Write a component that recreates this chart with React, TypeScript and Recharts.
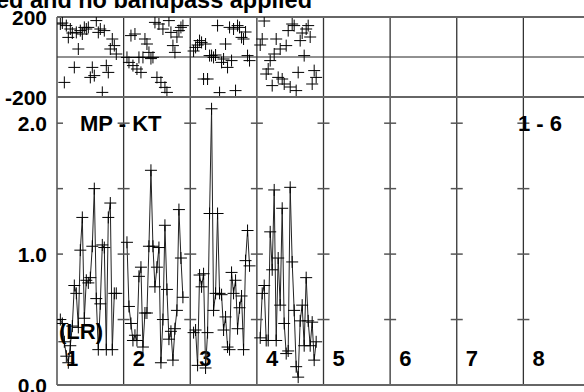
import React from 'react';
import { ComposedChart, Line, Scatter, XAxis, YAxis, ReferenceLine } from 'recharts';

// sample times, as a fraction of one channel box
const TIMES = [
  0.05, 0.08, 0.11, 0.14, 0.17, 0.2, 0.23, 0.26, 0.29, 0.32, 0.35, 0.38, 0.41, 0.44, 0.47,
  0.5, 0.53, 0.56, 0.59, 0.62, 0.65, 0.68, 0.71, 0.74, 0.77, 0.8, 0.83, 0.86, 0.89,
];

const CHANNELS = [1, 2, 3, 4, 5, 6, 7, 8];
const BOUNDARIES = [0, 1, 2, 3, 4, 5, 6, 7, 8];

// amplitude per channel (channels 5-8 have no data)
const AMP_CH1 = [
  0.5, 0.47, 0.33, 0.22, 0.17, 0.3, 0.45, 0.76, 0.7, 0.44, 1.03, 1.28, 0.51, 0.8, 0.78,
  0.82, 1.06, 1.5, 0.66, 0.27, 0.62, 1.07, 1.05, 0.27, 1.28, 1.39, 0.27, 0.7, 0.7,
];
const AMP_CH2 = [
  1.09, 0.6, 0.47, 0.34, 0.38, 0.34, 0.83, 0.9, 0.29, 0.55, 0.55, 1.06, 1.64, 1.06, 0.75,
  0.9, 1.05, 0.17, 0.5, 1.22, 0.73, 0.35, 0.41, 0.19, 0.43, 0.57, 1.34, 0.97, 0.67,
];
const AMP_CH3 = [
  0.4, 0.42, 0.15, 0.84, 0.75, 0.85, 0.13, 0.4, 1.31, 2.11, 0.57, 0.7, 1.31, 0.7, 0.69,
  0.42, 0.52, 0.29, 0.27, 0.86, 0.7, 0.8, 0.43, 0.59, 0.68, 0.27, 0.95, 1.18, 0.91,
];
const AMP_CH4 = [
  0.36, 0.7, 0.76, 0.34, 0.34, 1.17, 0.88, 1.49, 0.34, 0.97, 0.61, 1.35, 0.47, 0.24, 0.26,
  1.51, 0.94, 0.57, 0.14, 0.06, 0.49, 0.61, 0.3, 0.82, 0.49, 0.3, 0.48, 0.19, 0.33,
];

// phase in degrees per channel
const PHASE_CH1 = [
  165, 170, -127, 157, 98, 140, 120, -52, 123, 40, 132, 115, 148, 140, 148,
  -102, -52, -93, 182, 123, 140, -177, 132, -43, -77, 40, 90, 57, 15,
];
const PHASE_CH2 = [
  -2, -27, 107, -43, 115, -60, -2, -77, -2, 90, 65, 23, -8, -2, 173,
  -102, 165, -127, 140, -152, -177, 182, 123, 57, 23, 100, 132, 148, 157,
];
const PHASE_CH3 = [
  30, 48, 60, 82, 73, -110, 65, -110, 7, 7, -2, 10, 157, -178, -27,
  -10, 65, -52, 148, -18, 140, -168, 157, 148, 98, 90, 125, 7, -18,
];
const PHASE_CH4 = [
  60, 90, 180, -85, -60, -18, -143, 15, 90, -102, 40, -110, -135, 57, 132,
  -150, 165, 157, -168, -77, 82, 120, 7, 140, 157, 100, -135, -68, -102,
];

const AMPS = [AMP_CH1, AMP_CH2, AMP_CH3, AMP_CH4];
const PHASES = [PHASE_CH1, PHASE_CH2, PHASE_CH3, PHASE_CH4];

const AMP_TICKS = [0, 0.5, 1, 1.5, 2];
const AMP_BOX_TICKS = [0.5, 1, 1.5, 2];
const PHASE_TICKS = [-200, 200];
const TIME_TICKS = [0, 0.3, 0.6, 0.9];

const FONT = '"Liberation Sans", Arial, Helvetica, sans-serif';

const xTicks = BOUNDARIES.flatMap((b) => TIME_TICKS.map((t) => b + t));
const ampSeries = AMPS.map((vals, c) => vals.map((v, i) => ({ x: c + TIMES[i], y: v })));
const phaseSeries = PHASES.map((vals, c) => vals.map((v, i) => ({ x: c + TIMES[i], y: v })));
const boxTicks = BOUNDARIES.flatMap((b) => AMP_BOX_TICKS.map((v) => ({ x: b, y: v })));

const Plus = ({ cx, cy }: any) => {
  if (cx == null || cy == null) return null;
  return <path d={`M${cx - 6},${cy}h12M${cx},${cy - 6}v12`} stroke="#000" strokeWidth={1} fill="none" />;
};

const Dash = ({ cx, cy, payload }: any) => (
  <line
    x1={payload.x === 0 ? cx : cx - 6}
    x2={cx + 6}
    y1={cy}
    y2={cy}
    stroke="#555"
    strokeWidth={1.5}
  />
);

const yLabel = (fmt: (v: number) => string | null) => (props: any) => {
  const s = fmt(props.payload.value);
  if (s == null) return <g />;
  return (
    <text x={props.x - 2} y={props.y + 8} textAnchor="end" fontSize={21} fontWeight="bold" fontFamily={FONT} fill="#000">
      {s}
    </text>
  );
};

const channelLabel = (n: number) => (props: any) => {
  const vb = props.viewBox;
  if (!vb) return null;
  return (
    <text x={vb.x + 9} y={vb.y + vb.height - 19} fontSize={22} fontWeight="bold" fontFamily={FONT} fill="#000">
      {n}
    </text>
  );
};

const textStyle = { fontSize: 22, fontWeight: 'bold' as const, fontFamily: FONT, fill: '#000' };

export default function App() {
  return (
    <div style={{ position: 'fixed', left: 0, top: 0, width: 584, height: 392, overflow: 'hidden', background: '#fff' }}>
      <div style={{ position: 'absolute', left: 0, top: 0 }}>
        <ComposedChart width={600} height={110} margin={{ top: 17, right: 10, bottom: 13, left: 0 }}>
          <XAxis type="number" dataKey="x" domain={[0, 8]} allowDataOverflow ticks={xTicks} orientation="bottom" mirror tick={false} tickSize={5} stroke="#555" axisLine={{ stroke: '#666', strokeWidth: 2 }} />
          <XAxis xAxisId="t" type="number" dataKey="x" domain={[0, 8]} allowDataOverflow ticks={xTicks} orientation="top" mirror tick={false} tickSize={5} stroke="#555" axisLine={{ stroke: '#666', strokeWidth: 2 }} />
          <YAxis type="number" dataKey="y" domain={[-200, 200]} allowDataOverflow ticks={PHASE_TICKS} width={57} axisLine={false} tickLine={false} tick={yLabel((v) => String(v))} />
          <ReferenceLine y={0} stroke="#222" strokeWidth={1} />
          {BOUNDARIES.map((b) => (
            <ReferenceLine key={b} x={b} stroke="#333" strokeWidth={1.3} />
          ))}
          {phaseSeries.map((d, c) => (
            <Scatter key={c} data={d} dataKey="y" shape={Plus} isAnimationActive={false} />
          ))}
        </ComposedChart>
      </div>
      <div style={{ position: 'absolute', left: 0, top: 80 }}>
        <ComposedChart width={600} height={320} margin={{ top: 17, right: 10, bottom: 15, left: 0 }}>
          <XAxis type="number" dataKey="x" domain={[0, 8]} allowDataOverflow ticks={xTicks} orientation="bottom" mirror tick={false} tickSize={5} stroke="#555" axisLine={{ stroke: '#666', strokeWidth: 2 }} />
          <XAxis xAxisId="t" type="number" dataKey="x" domain={[0, 8]} allowDataOverflow ticks={xTicks} orientation="top" mirror tick={false} tickSize={5} stroke="#555" axisLine={{ stroke: '#666', strokeWidth: 2 }} />
          <YAxis type="number" dataKey="y" domain={[0, 2.2]} allowDataOverflow ticks={AMP_TICKS} width={57} axisLine={false} tickLine={false} tick={yLabel((v) => (Number.isInteger(v) ? v.toFixed(1) : null))} />
          {BOUNDARIES.map((b, i) => (
            <ReferenceLine
              key={b}
              x={b}
              stroke="#333"
              strokeWidth={1.3}
              label={i < CHANNELS.length ? channelLabel(CHANNELS[i]) : undefined}
            />
          ))}
          <Scatter data={boxTicks} dataKey="y" shape={Dash} isAnimationActive={false} />
          {ampSeries.map((d, c) => (
            <Line
              key={c}
              data={d}
              dataKey="y"
              type="linear"
              stroke="#222"
              strokeWidth={1}
              dot={(p: any) => <Plus key={`a${c}-${p.index}`} cx={p.cx} cy={p.cy} />}
              activeDot={false}
              isAnimationActive={false}
            />
          ))}
        </ComposedChart>
      </div>
      <svg width={584} height={392} style={{ position: 'absolute', left: 0, top: 0, pointerEvents: 'none' }}>
        <text x={312} y={7.5} textAnchor="end" {...textStyle} fontSize={23.5}>
          ed and no bandpass applied
        </text>
        <text x={80} y={131} {...textStyle}>MP - KT</text>
        <text x={518} y={131} {...textStyle}>1 - 6</text>
        <text x={59} y={339} {...textStyle}>(LR)</text>
      </svg>
    </div>
  );
}
